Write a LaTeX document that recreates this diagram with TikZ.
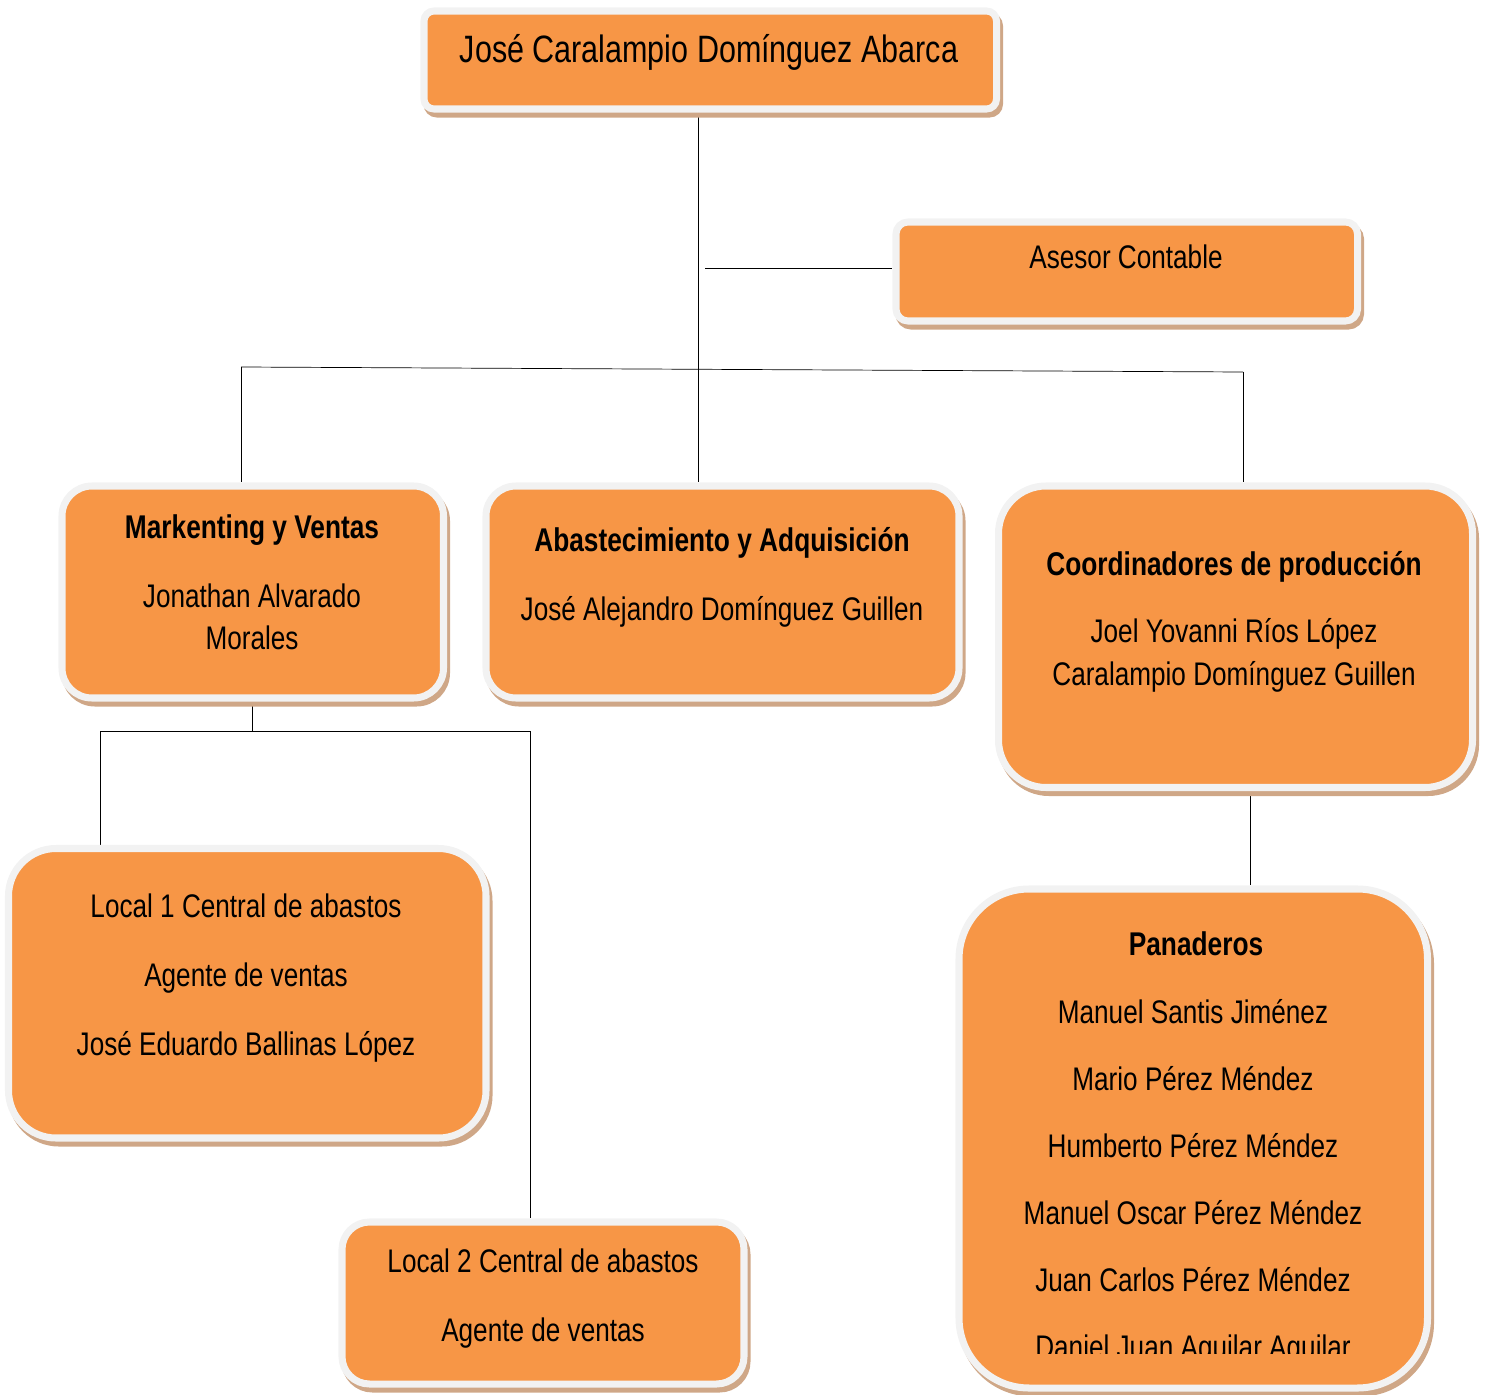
\documentclass[tikz,border=0pt]{standalone}
\usepackage{fontspec}
\setmainfont{Liberation Sans}[FakeStretch=0.8]
\usepackage{tikz}
\usetikzlibrary{fit, backgrounds}

\definecolor{naranja}{HTML}{F79646}
\definecolor{borde}{HTML}{F2F2F2}
\definecolor{sombra}{RGB}{207,167,135}

\tikzset{
  caja/.style={rectangle, fill=naranja, draw=borde, line width=4pt, inner sep=0pt,
    preaction={draw=sombra, fill=sombra, transform canvas={xshift=0.06cm, yshift=-0.1cm}}},
  txt/.style={anchor=base, inner sep=0pt, font=\fontsize{18.6pt}{22pt}\selectfont},
  tit/.style={txt, font=\fontsize{18.7pt}{22pt}\selectfont\bfseries}
}

\begin{document}
\begin{tikzpicture}[x=0.02cm, y=-0.02cm, line width=0.8pt]
  \useasboundingbox (0,0) rectangle (1487,1395);

  % cajas
  \node[caja, rounded corners=0.2cm, fit={(424,11) (996.5,109)}] (jefe) {};
  \node[caja, rounded corners=0.24cm, fit={(896,222) (1357.5,321)}] (asesor) {};
  \node[caja, rounded corners=0.6cm, fit={(62,486) (443.5,698)}] (mkt) {};
  \node[caja, rounded corners=0.6cm, fit={(486,486) (959,698)}] (abast) {};
  \node[caja, rounded corners=0.95cm, fit={(998.5,486) (1472.5,787.5)}] (coord) {};
  \node[caja, rounded corners=0.95cm, fit={(8.5,848.5) (486,1138)}] (local1) {};
  \node[caja, rounded corners=0.55cm, fit={(342,1222) (744,1384)}] (local2) {};
  \node[caja, rounded corners=1.4cm, fit={(959,889) (1427.5,1388)}] (pan) {};

  % textos
  \node[txt, font=\fontsize{21.7pt}{26pt}\selectfont] (jefeT) at (709,63) {José Caralampio Domínguez Abarca};
  \node[txt] (asesorT) at (1126,269) {Asesor Contable};
  \node[tit] (mktT) at (252,538) {Markenting y Ventas};
  \node[txt] (mktA) at (252,607) {Jonathan Alvarado};
  \node[txt] (mktB) at (252,649) {Morales};
  \node[tit] (abastT) at (722,551) {Abastecimiento y Adquisición};
  \node[txt] (abastA) at (722,620) {José Alejandro Domínguez Guillen};
  \node[tit] (coordT) at (1234,575) {Coordinadores de producción};
  \node[txt] (coordA) at (1234,642) {Joel Yovanni Ríos López};
  \node[txt] (coordB) at (1234,685) {Caralampio Domínguez Guillen};
  \node[txt] (local1A) at (246,917) {Local 1 Central de abastos};
  \node[txt] (local1B) at (246,986) {Agente de ventas};
  \node[txt] (local1C) at (246,1055) {José Eduardo Ballinas López};
  \node[txt] (local2A) at (543,1272) {Local 2 Central de abastos};
  \node[txt] (local2B) at (543,1341) {Agente de ventas};
  \node[tit] (panT) at (1196,955) {Panaderos};
  \begin{scope}
    \clip (900,880) rectangle (1450,1353);
    \foreach \nombre [count=\i] in {Manuel Santis Jiménez, Mario Pérez Méndez,
        Humberto Pérez Méndez, Manuel Oscar Pérez Méndez,
        Juan Carlos Pérez Méndez, Daniel Juan Aguilar Aguilar}
      \node[txt] (pan\i) at (1193,{956+67*\i}) {\nombre};
  \end{scope}

  % lineas
  \begin{scope}[on background layer]
    \coordinate (j0) at (698,369);
    \coordinate (a0) at (705,268);
    \coordinate (bl) at (241,367);
    \coordinate (br) at (1243,372);
    \coordinate (m0) at (252.5,731);
    \coordinate (ml) at (100,731);
    \coordinate (mr) at (530,731);
    \coordinate (c0) at (1250,800);
    \draw (jefe.south -| j0) -- (abast.north -| j0);
    \draw (a0) -- (asesor.west |- a0);
    \draw (bl) -- (br);
    \draw (bl) -- (bl |- mkt.north);
    \draw (br) -- (br |- coord.north);
    \draw (mkt.south -| m0) -- (m0);
    \draw (ml) -- (mr);
    \draw (ml) -- (ml |- local1.north);
    \draw (mr) -- (mr |- local2.north);
    \draw (coord.south -| c0) -- (pan.north -| c0);
  \end{scope}
\end{tikzpicture}
\end{document}
